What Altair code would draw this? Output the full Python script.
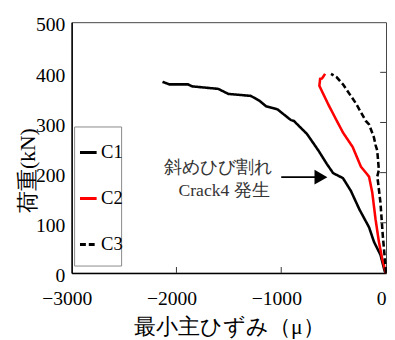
import altair as alt
import pandas as pd

# ---- data ----
c1_x = [0, -12, -53, -115, -162, -255, -334, -411, -505, -567, -645, -754, -879, -909,
        -1035, -1065, -1143, -1206, -1290, -1505, -1601, -1850, -1891, -2068, -2133]
c1_y = [0, 3, 36, 62, 91, 127, 163, 189, 199, 218, 244, 277, 303, 305,
        326, 328, 332, 343, 353, 357, 367, 372, 376, 376, 381]

c2_x = [0, -6, -37, -68, -100, -131, -162, -240, -318, -411, -474, -551, -636, -629, -610, -581]
c2_y = [0, 3, 29, 62, 107, 160, 192, 212, 251, 280, 305, 336, 373, 387, 388, 397]

c3_x = [0, -6, -31, -53, -75, -84, -68, -84, -100, -115, -162, -193, -287, -411, -470, -525]
c3_y = [0, 16, 75, 140, 179, 192, 205, 244, 255, 270, 296, 303, 338, 376, 390, 397]

series = ["C1", "C2", "C3"]
colors = ["black", "red", "black"]
dashes = [[1, 0], [1, 0], [6, 3]]

x_ticks = [-3000, -2000, -1000, 0]
y_ticks = [0, 100, 200, 300, 400, 500]

note_lines = ["斜めひび割れ", "Crack4 発生"]
note_x = [-1600, -1545]
note_y = [209, 164]
arrow_x = [-1000, -650]
arrow_y = [191, 191]
arrow_head_x = [-621]
arrow_head_y = [191]

# ---- tables ----
rows = []
for name, xs_, ys_ in [("C1", c1_x, c1_y), ("C2", c2_x, c2_y), ("C3", c3_x, c3_y)]:
    for i, (xv, yv) in enumerate(zip(xs_, ys_)):
        rows.append({"s": name, "x": xv, "y": yv, "i": i})
df = pd.DataFrame(rows)

FONT = "Liberation Serif"
W, H = 321, 256

xs = alt.Scale(domain=[-3000, 0], nice=False)
ys = alt.Scale(domain=[0, 500], nice=False)

frame = alt.Chart(pd.DataFrame({"a": [0]})).mark_rect(
    fill="white", stroke="#888888", strokeWidth=1
).encode(x=alt.value(3), x2=alt.value(51), y=alt.value(107), y2=alt.value(249))

leg = alt.Legend(title=None, orient="none", legendX=7, legendY=123,
                 symbolType="stroke", symbolStrokeWidth=3,
                 symbolSize=289, labelFontSize=19, labelFont=FONT,
                 labelOffset=3, rowPadding=27, padding=0,
                 labelColor="black")

lines = alt.Chart(df).mark_line(strokeWidth=2.6).encode(
    x=alt.X("x:Q", scale=xs,
            axis=alt.Axis(values=x_ticks, ticks=False, labelPadding=16, grid=False,
                          format="d", labelFlush=False, labelOffset=-5,
                          labelFont=FONT, labelFontSize=20, labelColor="black",
                          titleFont=FONT, titleFontSize=22, titleFontWeight="normal",
                          titleColor="black",
                          title="最小主ひずみ（μ）", titlePadding=9)),
    y=alt.Y("y:Q", scale=ys,
            axis=alt.Axis(values=y_ticks, ticks=False, labelPadding=7, grid=False,
                          format="d", labelFlush=False, labelOffset=3,
                          labelFont=FONT, labelFontSize=20, labelColor="black",
                          titleFont=FONT, titleFontSize=22, titleFontWeight="normal",
                          titleColor="black", titleBaseline="middle",
                          title="荷重(kN)", titleX=-45, titleY=151)),
    color=alt.Color("s:N", scale=alt.Scale(domain=series, range=colors), legend=leg),
    strokeDash=alt.StrokeDash("s:N", scale=alt.Scale(domain=series, range=dashes), legend=leg),
    order="i:Q",
)

tick_df = pd.DataFrame({"t": x_ticks[1:-1]})
bottom_ticks = alt.Chart(tick_df).mark_rule(color="#333333", strokeWidth=1).encode(
    x=alt.X("t:Q", scale=xs), y=alt.value(H), y2=alt.value(H - 6))

ytick_df = pd.DataFrame({"t": y_ticks[1:-1]})
right_ticks = alt.Chart(ytick_df).mark_rule(color="#333333", strokeWidth=1).encode(
    y=alt.Y("t:Q", scale=ys), x=alt.value(W), x2=alt.value(W - 6))

note = alt.Chart(pd.DataFrame({"t": note_lines, "x": note_x, "y": note_y})).mark_text(
    fontSize=18, font=FONT, color="#333333", align="center", baseline="middle"
).encode(x=alt.X("x:Q", scale=xs), y=alt.Y("y:Q", scale=ys), text="t:N")

arrow = alt.Chart(pd.DataFrame({"x": arrow_x, "y": arrow_y})).mark_line(
    color="black", strokeWidth=2
).encode(x=alt.X("x:Q", scale=xs), y=alt.Y("y:Q", scale=ys))

head = alt.Chart(pd.DataFrame({"x": arrow_head_x, "y": arrow_head_y})).mark_point(
    shape="triangle-right", filled=True, color="black", size=230, opacity=1
).encode(x=alt.X("x:Q", scale=xs), y=alt.Y("y:Q", scale=ys))

chart = alt.layer(frame, lines, bottom_ticks, right_ticks, note, arrow, head).properties(
    width=W, height=H,
    autosize=alt.AutoSizeParams(type="none"),
    padding={"left": 65, "top": 11, "right": 1, "bottom": 64},
).configure(
    font=FONT
).configure_view(
    stroke="#444444", strokeWidth=1
).configure_axis(
    domainColor="black", domainWidth=1.5,
)

chart.save("out.html", embed_options={"renderer": "svg", "actions": False})
